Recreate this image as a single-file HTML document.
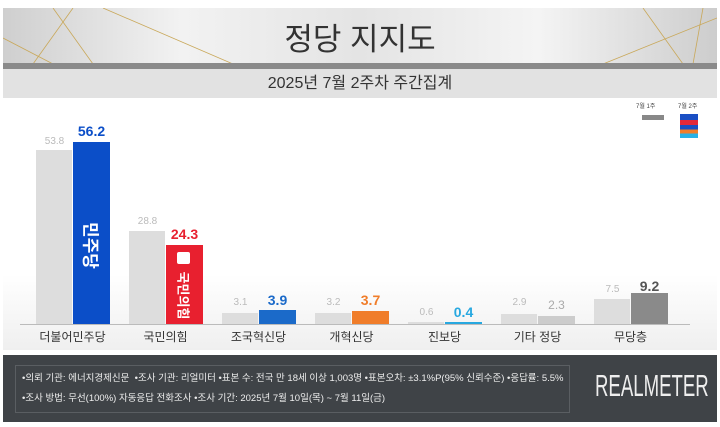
<!DOCTYPE html><html><head><meta charset="utf-8"><style>
body{margin:0;width:720px;height:427px;background:#fff;position:relative;overflow:hidden;font-family:"Liberation Sans","Noto Sans CJK KR",sans-serif}
.a{position:absolute}
.v{position:absolute;text-align:center;width:37px;font-size:10px;color:#bbb}
.c{position:absolute;text-align:center;width:37px;font-size:14px;font-weight:bold}
.l{position:absolute;text-align:center;width:93px;font-size:12px;color:#333;top:328px}
.r{position:absolute;color:#fff;font-weight:bold;white-space:nowrap;transform:rotate(90deg);transform-origin:center}
</style></head><body>
<div class="a" style="left:3px;top:8px;width:714px;height:56px;background:linear-gradient(90deg,#cfcfcf,#f2f2f2 25%,#e4e4e4 50%,#f4f4f4 75%,#cdcdcd)"></div>
<svg class="a" style="left:3px;top:8px" width="714" height="56"><g stroke="#c9a85a" stroke-width="0.8" fill="none"><line x1="30" y1="56" x2="70" y2="0"/><line x1="0" y1="30" x2="50" y2="56"/><line x1="50" y1="0" x2="90" y2="56"/><line x1="100" y1="0" x2="230" y2="56"/><line x1="640" y1="0" x2="680" y2="56"/><line x1="700" y1="0" x2="690" y2="56"/><line x1="600" y1="56" x2="714" y2="10"/></g></svg>
<div class="a" style="left:0;width:720px;top:14px;text-align:center;font-size:31px;color:#333">정당 지지도</div>
<div class="a" style="left:3px;top:63px;width:714px;height:6px;background:#8a8a8a"></div>
<div class="a" style="left:3px;top:69px;width:714px;height:29px;background:#e2e2e2;text-align:center;font-size:16px;line-height:29px;color:#333">2025년 7월 2주차 주간집계</div>
<div class="a" style="left:3px;top:98px;width:714px;height:252px;background:linear-gradient(#fff 70%,#efefef)"></div>
<div class="a" style="left:636px;top:101px;font-size:6px;color:#444">7월 1주</div>
<div class="a" style="left:678px;top:101px;font-size:6px;color:#444">7월 2주</div>
<div class="a" style="left:642px;top:115px;width:22px;height:5px;background:#888"></div>
<div class="a" style="left:680px;top:114px;width:18px;height:24px;background:linear-gradient(#1a4fc4 0 25%,#e5283a 25% 45%,#1a4fc4 45% 65%,#f07d2a 65% 82%,#27b1e6 82%)"></div>
<div class="a" style="left:20px;top:324px;width:670px;height:1px;background:#bbb"></div>
<div class="a" style="left:36px;top:150px;width:36px;height:174px;background:#ddd"></div>
<div class="a" style="left:73px;top:142px;width:37px;height:182px;background:#0b4ec8"></div>
<div class="r" style="left:65px;top:233px;width:54px;text-align:center;font-size:17px">민주당</div>
<div class="a" style="left:129px;top:231px;width:36px;height:93px;background:#ddd"></div>
<div class="a" style="left:166px;top:245px;width:37px;height:79px;background:#e8202f"></div>
<div class="a" style="left:177px;top:252px;width:13px;height:12px;background:#fff;border-radius:2px"></div>
<div class="r" style="left:156px;top:286px;width:56px;text-align:center;font-size:13px">국민의힘</div>
<div class="a" style="left:222px;top:313px;width:36px;height:11px;background:#ddd"></div>
<div class="a" style="left:259px;top:310px;width:37px;height:14px;background:#1b6ac9"></div>
<div class="a" style="left:315px;top:313px;width:36px;height:11px;background:#ddd"></div>
<div class="a" style="left:352px;top:311px;width:37px;height:13px;background:#f07d2a"></div>
<div class="a" style="left:408px;top:322px;width:36px;height:2px;background:#ddd"></div>
<div class="a" style="left:445px;top:322px;width:37px;height:2px;background:#27a8e0"></div>
<div class="a" style="left:501px;top:314px;width:36px;height:10px;background:#ddd"></div>
<div class="a" style="left:538px;top:316px;width:37px;height:8px;background:#ccc"></div>
<div class="a" style="left:594px;top:299px;width:36px;height:25px;background:#ddd"></div>
<div class="a" style="left:631px;top:293px;width:37px;height:31px;background:#8a8a8a"></div>
<div class="v" style="left:36px;top:136px">53.8</div><div class="c" style="left:73px;top:123px;color:#0b4ec8">56.2</div>
<div class="v" style="left:129px;top:216px">28.8</div><div class="c" style="left:166px;top:226px;color:#e8202f">24.3</div>
<div class="v" style="left:222px;top:297px">3.1</div><div class="c" style="left:259px;top:292px;color:#1b6ac9">3.9</div>
<div class="v" style="left:315px;top:297px">3.2</div><div class="c" style="left:352px;top:292px;color:#f07d2a">3.7</div>
<div class="v" style="left:408px;top:307px">0.6</div><div class="c" style="left:445px;top:304px;color:#27a8e0">0.4</div>
<div class="v" style="left:501px;top:297px">2.9</div><div class="v" style="left:538px;top:298px;font-size:12px;color:#aaa">2.3</div>
<div class="v" style="left:594px;top:284px">7.5</div><div class="c" style="left:631px;top:278px;color:#555">9.2</div>
<div class="l" style="left:26px">더불어민주당</div><div class="l" style="left:119px">국민의힘</div><div class="l" style="left:212px">조국혁신당</div><div class="l" style="left:305px">개혁신당</div><div class="l" style="left:398px">진보당</div><div class="l" style="left:491px">기타 정당</div><div class="l" style="left:584px">무당층</div>
<div class="a" style="left:3px;top:355px;width:714px;height:67px;background:#3f4347"></div>
<div class="a" style="left:15px;top:365px;width:555px;height:48px;border:1px solid #5a5e62;box-sizing:border-box"></div>
<div class="a" style="left:22px;top:369px;font-size:9.5px;color:#eee;line-height:20px;white-space:nowrap">•의뢰 기관: 에너지경제신문 &nbsp;•조사 기관: 리얼미터 •표본 수: 전국 만 18세 이상 1,003명 •표본오차: ±3.1%P(95% 신뢰수준) •응답률: 5.5%<br>•조사 방법: 무선(100%) 자동응답 전화조사 •조사 기간: 2025년 7월 10일(목) ~ 7월 11일(금)</div>
<div class="a" style="left:595px;top:368px;font-size:31px;color:#eee;transform:scaleX(0.6);transform-origin:left top;white-space:nowrap">REALMETER</div>
</body></html>
